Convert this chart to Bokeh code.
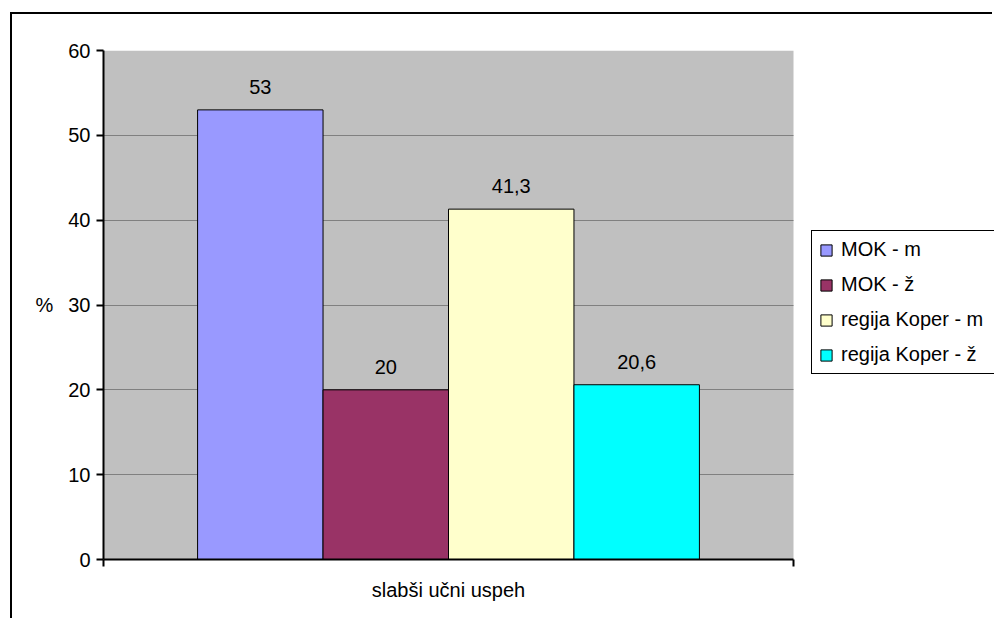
from bokeh.plotting import figure
from bokeh.models import Range1d, FixedTicker, Legend, LegendItem, ColumnDataSource
from bokeh.embed import file_html
from bokeh.resources import INLINE
from bokeh.core.properties import value

# ---- data ----
category = "slabši učni uspeh"
series = ["MOK - m", "MOK - ž", "regija Koper - m", "regija Koper - ž"]
values = [53, 20, 41.3, 20.6]
value_labels = ["53", "20", "41,3", "20,6"]
colors = ["#9999FF", "#993366", "#FFFFCC", "#00FFFF"]
y_ticks = [0, 10, 20, 30, 40, 50, 60]

FONT = "Liberation Sans"
W, H = 982, 606
LEFT, TOP = 91, 36
PLOT_W, PLOT_H = 690, 509        # grey plot area in px
BOTTOM = H - TOP - PLOT_H
FRAME_W = W - LEFT               # frame runs to the right edge (legend lives there)
GAP = 0.75                       # half of Excel's 150% gap width, in bar widths
XMAX = len(series) + 2 * GAP
YMAX = y_ticks[-1]

p = figure(width=W, height=H, output_backend="svg", toolbar_location=None,
           x_range=Range1d(0, XMAX * FRAME_W / PLOT_W), y_range=Range1d(0, YMAX),
           min_border_left=LEFT, min_border_right=0,
           min_border_top=TOP, min_border_bottom=BOTTOM)

# outer chart border (only its left/top edges are inside the window)
p.styles = {"vertical-align": "top",
            "margin-left": "10px", "margin-top": "12px",
            "border-left": "2px solid black", "border-top": "2px solid black"}

p.background_fill_color = "white"
p.border_fill_color = "white"
p.outline_line_color = None

# grey plot area
p.quad(left=[0], right=[XMAX], bottom=[0], top=[YMAX],
       fill_color="#C0C0C0", line_color=None, level="image")

xs = [GAP + i + 0.5 for i in range(len(series))]
items = []
for i, (s, v, c) in enumerate(zip(series, values, colors)):
    src = ColumnDataSource(dict(x=[xs[i]], top=[v]))
    r = p.vbar(x="x", top="top", bottom=0, width=1.0, source=src,
               fill_color=c, line_color="black", line_width=1)
    items.append(LegendItem(label=s, renderers=[r]))

lab_src = ColumnDataSource(dict(x=xs, y=values, t=value_labels))
p.text(x="x", y="y", text="t", source=lab_src, text_align="center",
       text_baseline="alphabetic", y_offset=-23, text_font=value(FONT),
       text_font_size="20px", text_color="black")

# grid
p.xgrid.visible = False
p.ygrid.ticker = FixedTicker(ticks=y_ticks[1:-1])
p.ygrid.cross_bounds = (0, XMAX)
p.ygrid.grid_line_color = "#808080"
p.ygrid.grid_line_width = 1
p.ygrid.level = "underlay"

# y axis
ya = p.yaxis[0]
ya.ticker = FixedTicker(ticks=y_ticks)
ya.axis_line_color = "black"
ya.axis_line_width = 2
ya.major_tick_line_color = "black"
ya.major_tick_line_width = 2
ya.major_tick_in = 0
ya.major_tick_out = 7
ya.minor_tick_line_color = None
ya.major_label_standoff = 6
ya.major_label_text_font = FONT
ya.major_label_text_font_size = "20px"
ya.major_label_text_color = "black"
ya.axis_label = "%"
ya.axis_label_orientation = "horizontal"
ya.axis_label_text_font = FONT
ya.axis_label_text_font_size = "20px"
ya.axis_label_text_font_style = "normal"
ya.axis_label_text_color = "black"
ya.axis_label_standoff = 12

# x axis: category label at the centre, edge ticks as minor ticks
xa = p.xaxis[0]
xa.bounds = (0, XMAX)
xa.ticker = FixedTicker(ticks=[XMAX / 2], minor_ticks=[0, XMAX])
xa.major_label_overrides = {XMAX / 2: category}
xa.axis_line_color = "black"
xa.axis_line_width = 2
xa.major_tick_line_color = None
xa.major_tick_in = 0
xa.major_tick_out = 0
xa.minor_tick_line_color = "black"
xa.minor_tick_line_width = 2
xa.minor_tick_in = 0
xa.minor_tick_out = 7
xa.major_label_standoff = 12
xa.major_label_text_font = FONT
xa.major_label_text_font_size = "20px"
xa.major_label_text_color = "black"

legend = Legend(items=items, location=(PLOT_W + 18, 185),
                label_text_font=FONT, label_text_font_size="20px",
                label_text_color="black",
                label_height=20, label_width=155,
                glyph_height=14, glyph_width=14,
                spacing=12, padding=7, margin=0, label_standoff=8,
                border_line_color="black", border_line_width=1,
                border_line_alpha=1,
                background_fill_color="white", background_fill_alpha=1)
p.add_layout(legend, "center")

open("out.html", "w").write(file_html(p, INLINE))
